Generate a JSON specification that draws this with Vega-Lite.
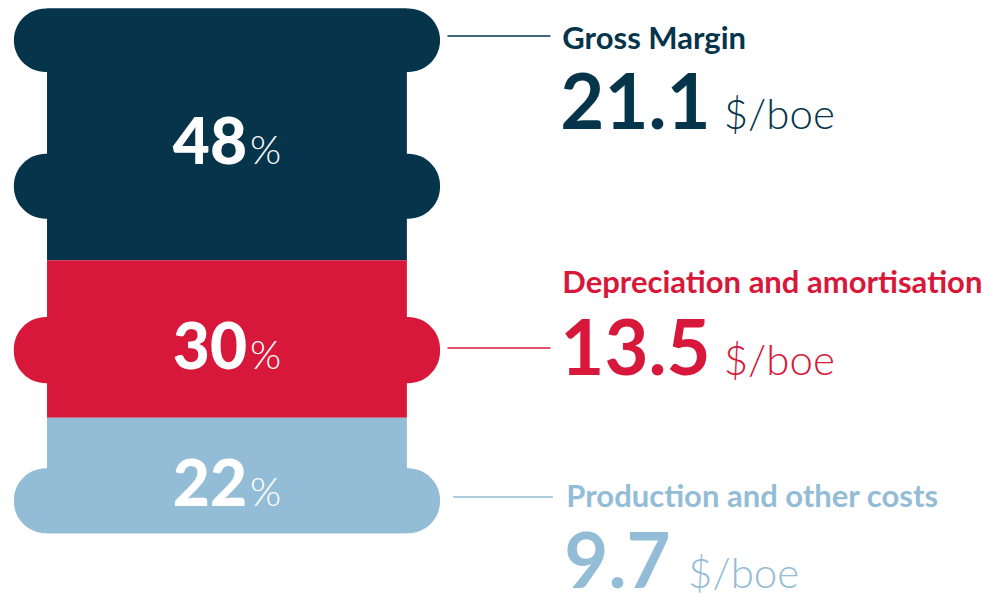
{
  "$schema": "https://vega.github.io/schema/vega-lite/v6.json",
  "width": 990,
  "height": 596,
  "autosize": {"type": "none"},
  "padding": 0,
  "background": "white",
  "view": {"stroke": null},
  "config": {"font": "Lato"},
  "datasets": {
    "costs": [
      {"category": "Gross Margin", "pct": 48, "value": 21.1, "order": 3},
      {"category": "Depreciation and amortisation", "pct": 30, "value": 13.5, "order": 2},
      {"category": "Production and other costs", "pct": 22, "value": 9.7, "order": 1}
    ]
  },
  "data": {"name": "costs"},
  "transform": [
    {"stack": "pct", "groupby": [], "sort": [{"field": "order", "order": "ascending"}], "as": ["y0", "y1"]},
    {"calculate": "(datum.y0 + datum.y1) / 2", "as": "mid"}
  ],
  "layer": [
    {
      "mark": {"type": "rect"},
      "encoding": {
        "x": {"datum": 4.75, "type": "quantitative", "scale": {"domain": [0, 100], "nice": false, "zero": false}, "axis": null},
        "x2": {"datum": 41.1},
        "y": {"field": "y0", "type": "quantitative", "scale": {"domain": [-11.95, 101.6], "nice": false, "zero": false}, "axis": null},
        "y2": {"field": "y1"},
        "color": {"field": "category", "type": "nominal", "legend": null,
          "scale": {"domain": ["Gross Margin", "Depreciation and amortisation", "Production and other costs"], "range": ["#05344B", "#D7183A", "#93BDD6"]}}
      }
    },
    {
      "transform": [{"filter": "datum.category === 'Gross Margin'"}],
      "layer": [
        {"mark": {"type": "rect", "cornerRadius": 32},
         "encoding": {"x": {"datum": 1.4, "type": "quantitative", "axis": null}, "x2": {"datum": 44.45},
           "y": {"datum": 100, "type": "quantitative", "axis": null}, "y2": {"datum": 87.9},
           "color": {"field": "category", "type": "nominal", "legend": null}}},
        {"mark": {"type": "rect", "cornerRadius": 32},
         "encoding": {"x": {"datum": 1.4, "type": "quantitative", "axis": null}, "x2": {"datum": 44.45},
           "y": {"datum": 72.3, "type": "quantitative", "axis": null}, "y2": {"datum": 59.9},
           "color": {"field": "category", "type": "nominal", "legend": null}}},
        {"mark": {"type": "rule", "strokeWidth": 1.5},
         "encoding": {"x": {"datum": 45.2, "type": "quantitative", "axis": null}, "x2": {"datum": 55.6},
           "y": {"datum": 94.75, "type": "quantitative", "axis": null},
           "color": {"field": "category", "type": "nominal", "legend": null}}},
        {"mark": {"type": "text", "align": "left", "baseline": "alphabetic", "fontSize": 31, "fontWeight": "bold"},
         "encoding": {"x": {"datum": 56.8, "type": "quantitative", "axis": null},
           "y": {"datum": 92.28, "type": "quantitative", "axis": null},
           "text": {"field": "category"},
           "color": {"field": "category", "type": "nominal", "legend": null}}},
        {"mark": {"type": "text", "align": "left", "baseline": "alphabetic", "fontSize": 76, "fontWeight": "bold"},
         "encoding": {"x": {"datum": 56.6, "type": "quantitative", "axis": null},
           "y": {"datum": 77.03, "type": "quantitative", "axis": null},
           "text": {"field": "value", "format": ".1f"},
           "color": {"field": "category", "type": "nominal", "legend": null}}},
        {"mark": {"type": "text", "align": "left", "baseline": "alphabetic", "fontSize": 42, "fontWeight": 300},
         "encoding": {"x": {"datum": 73.1, "type": "quantitative", "axis": null},
           "y": {"datum": 77.03, "type": "quantitative", "axis": null},
           "text": {"value": "$/boe"},
           "color": {"field": "category", "type": "nominal", "legend": null}}}
      ]
    },
    {
      "transform": [{"filter": "datum.category === 'Depreciation and amortisation'"}],
      "layer": [
        {"mark": {"type": "rect", "cornerRadius": 32},
         "encoding": {"x": {"datum": 1.4, "type": "quantitative", "axis": null}, "x2": {"datum": 44.45},
           "y": {"datum": 41.2, "type": "quantitative", "axis": null}, "y2": {"datum": 28.6},
           "color": {"field": "category", "type": "nominal", "legend": null}}},
        {"mark": {"type": "rule", "strokeWidth": 1.5},
         "encoding": {"x": {"datum": 45.2, "type": "quantitative", "axis": null}, "x2": {"datum": 55.6},
           "y": {"datum": 35.3, "type": "quantitative", "axis": null},
           "color": {"field": "category", "type": "nominal", "legend": null}}},
        {"mark": {"type": "text", "align": "left", "baseline": "alphabetic", "fontSize": 31, "fontWeight": "bold"},
         "encoding": {"x": {"datum": 56.8, "type": "quantitative", "axis": null},
           "y": {"datum": 45.78, "type": "quantitative", "axis": null},
           "text": {"field": "category"},
           "color": {"field": "category", "type": "nominal", "legend": null}}},
        {"mark": {"type": "text", "align": "left", "baseline": "alphabetic", "fontSize": 76, "fontWeight": "bold"},
         "encoding": {"x": {"datum": 56.6, "type": "quantitative", "axis": null},
           "y": {"datum": 30.2, "type": "quantitative", "axis": null},
           "text": {"field": "value", "format": ".1f"},
           "color": {"field": "category", "type": "nominal", "legend": null}}},
        {"mark": {"type": "text", "align": "left", "baseline": "alphabetic", "fontSize": 42, "fontWeight": 300},
         "encoding": {"x": {"datum": 73.1, "type": "quantitative", "axis": null},
           "y": {"datum": 30.2, "type": "quantitative", "axis": null},
           "text": {"value": "$/boe"},
           "color": {"field": "category", "type": "nominal", "legend": null}}}
      ]
    },
    {
      "transform": [{"filter": "datum.category === 'Production and other costs'"}],
      "layer": [
        {"mark": {"type": "rect", "cornerRadius": 32},
         "encoding": {"x": {"datum": 1.4, "type": "quantitative", "axis": null}, "x2": {"datum": 44.45},
           "y": {"datum": 12.4, "type": "quantitative", "axis": null}, "y2": {"datum": 0},
           "color": {"field": "category", "type": "nominal", "legend": null}}},
        {"mark": {"type": "rule", "strokeWidth": 1.5},
         "encoding": {"x": {"datum": 45.75, "type": "quantitative", "axis": null}, "x2": {"datum": 55.85},
           "y": {"datum": 6.92, "type": "quantitative", "axis": null},
           "color": {"field": "category", "type": "nominal", "legend": null}}},
        {"mark": {"type": "text", "align": "left", "baseline": "alphabetic", "fontSize": 31, "fontWeight": "bold"},
         "encoding": {"x": {"datum": 57.2, "type": "quantitative", "axis": null},
           "y": {"datum": 5.0, "type": "quantitative", "axis": null},
           "text": {"field": "category"},
           "color": {"field": "category", "type": "nominal", "legend": null}}},
        {"mark": {"type": "text", "align": "left", "baseline": "alphabetic", "fontSize": 76, "fontWeight": "bold"},
         "encoding": {"x": {"datum": 57.0, "type": "quantitative", "axis": null},
           "y": {"datum": -10.4, "type": "quantitative", "axis": null},
           "text": {"field": "value", "format": ".1f"},
           "color": {"field": "category", "type": "nominal", "legend": null}}},
        {"mark": {"type": "text", "align": "left", "baseline": "alphabetic", "fontSize": 42, "fontWeight": 300},
         "encoding": {"x": {"datum": 69.5, "type": "quantitative", "axis": null},
           "y": {"datum": -10.4, "type": "quantitative", "axis": null},
           "text": {"value": "$/boe"},
           "color": {"field": "category", "type": "nominal", "legend": null}}}
      ]
    },
    {
      "mark": {"type": "text", "align": "right", "baseline": "alphabetic", "fontSize": 64, "fontWeight": 900, "dy": 30, "color": "white"},
      "encoding": {
        "x": {"datum": 24.95, "type": "quantitative", "axis": null},
        "y": {"field": "mid", "type": "quantitative", "axis": null},
        "text": {"field": "pct"}
      }
    },
    {
      "mark": {"type": "text", "align": "left", "baseline": "alphabetic", "fontSize": 40, "fontWeight": 300, "dy": 30, "color": "white"},
      "encoding": {
        "x": {"datum": 25.25, "type": "quantitative", "axis": null},
        "y": {"field": "mid", "type": "quantitative", "axis": null},
        "text": {"value": "%"}
      }
    }
  ]
}
